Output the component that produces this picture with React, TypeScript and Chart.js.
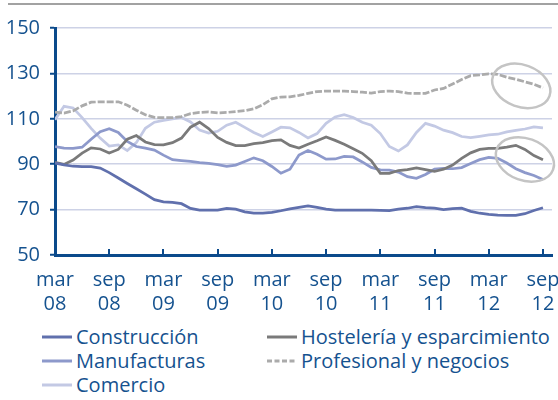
import React, { useEffect, useRef } from "react";
import { Chart, registerables } from "chart.js";

Chart.register(...registerables);

// ---- data (monthly, mar 08 .. sep 12) ----
const xTickMonths = [0, 6, 12, 18, 24, 30, 36, 42, 48, 54];
const xTickLabels = [
  ["mar", "08"], ["sep", "08"], ["mar", "09"], ["sep", "09"], ["mar", "10"],
  ["sep", "10"], ["mar", "11"], ["sep", "11"], ["mar", "12"], ["sep", "12"],
];
const yLabelledTicks = [50, 70, 90, 110, 130, 150];

const seriesNames = [
  "Construcción",
  "Hostelería y esparcimiento",
  "Manufacturas",
  "Profesional y negocios",
  "Comercio",
];

const construccion = [
  90.5, 89.7, 89.1, 88.9, 88.9, 88.3, 86.3, 83.9, 81.5, 79.2,
  76.8, 74.4, 73.4, 73.2, 72.6, 70.5, 69.8, 69.8, 69.8, 70.5,
  70.2, 69.0, 68.4, 68.4, 68.8, 69.5, 70.3, 71.0, 71.6, 71.0,
  70.2, 69.8, 69.8, 69.8, 69.8, 69.8, 69.7, 69.6, 70.2, 70.6,
  71.3, 70.9, 70.6, 70.0, 70.4, 70.6, 69.2, 68.4, 67.9, 67.6,
  67.5, 67.5, 68.2, 69.6, 70.8,
];
const hosteleria = [
  90.8, 89.9, 91.8, 94.9, 97.2, 96.7, 94.9, 96.5, 101.0, 102.6,
  99.8, 98.6, 98.5, 99.5, 101.5, 106.3, 108.5, 105.7, 101.8, 99.6,
  98.2, 98.2, 99.1, 99.5, 100.4, 100.7, 98.3, 97.1, 98.8, 100.3,
  102.0, 100.5, 98.8, 96.8, 94.8, 91.5, 86.0, 86.0, 87.2, 87.6,
  88.4, 87.6, 86.8, 87.8, 89.6, 92.6, 95.0, 96.5, 97.0, 97.0,
  97.5, 98.3, 96.5, 93.8, 92.0,
];
const manufacturas = [
  97.8, 97.1, 97.0, 97.5, 101.0, 104.3, 105.6, 104.0, 100.0, 97.8,
  97.1, 96.2, 94.0, 92.0, 91.6, 91.2, 90.7, 90.4, 89.8, 89.1,
  89.6, 91.2, 92.8, 91.5, 89.0, 86.0, 87.8, 94.0, 96.0, 94.4,
  92.2, 92.3, 93.4, 93.2, 91.0, 88.6, 87.5, 87.4, 86.5, 84.5,
  83.8, 85.5, 87.8, 88.2, 88.0, 88.5, 90.3, 92.0, 93.0, 92.6,
  90.5, 88.0, 86.3, 85.0, 83.3,
];
const profesional = [
  112.9, 112.5, 113.5, 115.7, 117.3, 117.5, 117.5, 117.5, 116.0, 113.8,
  111.8, 110.6, 110.5, 110.5, 111.0, 112.3, 112.8, 113.0, 112.6, 112.8,
  113.2, 113.6, 114.4, 116.2, 118.8, 119.6, 119.7, 120.3, 121.2, 122.0,
  122.2, 122.2, 122.2, 122.0, 121.7, 121.3, 122.0, 122.2, 122.0, 121.3,
  121.2, 121.2, 122.7, 123.4, 125.3, 127.3, 129.0, 129.3, 129.8, 129.6,
  128.3, 127.4, 126.3, 125.2, 123.6,
];
const comercio = [
  109.6, 115.5, 114.8, 110.5, 105.8, 101.5, 98.0, 98.5, 96.0, 99.5,
  105.8, 108.5, 109.3, 110.0, 110.6, 108.6, 105.0, 103.7, 104.5, 107.2,
  108.5, 106.2, 104.0, 102.2, 104.2, 106.3, 106.0, 104.0, 101.6, 103.5,
  108.0, 110.8, 111.8, 110.6, 108.5, 107.2, 103.5, 97.8, 95.8, 98.5,
  104.0, 108.0, 106.8, 105.0, 103.9, 102.2, 101.7, 102.3, 102.9, 103.2,
  104.2, 104.9, 105.5, 106.4, 106.0,
];
const seriesValues = [construccion, hosteleria, manufacturas, profesional, comercio];

// highlighted regions (month, value)
const ellipseMonths = [51.6, 52.0];
const ellipseValues = [124.5, 92.1];

// ---- styles ----
const FONT = "'Open Sans', sans-serif";
const TEXT = "#15528f";
const AXIS = "#0b4a8b";
const GRID = "#cdd2e6";
const ELLIPSE = "#c4c4c4";
const seriesColors = ["#6070ad", "#7a7a7a", "#8d99cb", "#ababab", "#c3c9e4"];
const seriesDash: number[][] = [[], [], [], [7, 2], []];

const decorPlugin = {
  id: "decor",
  afterDraw(chart: any) {
    const { ctx, chartArea, scales } = chart;
    const xs = scales.x;
    const ys = scales.y;
    ctx.save();
    ctx.strokeStyle = AXIS;
    ctx.lineWidth = 2;
    xTickMonths.forEach((m) => {
      const px = Math.round(xs.getPixelForValue(m));
      ctx.beginPath();
      ctx.moveTo(px, chartArea.bottom - 6);
      ctx.lineTo(px, chartArea.bottom);
      ctx.stroke();
    });
    ctx.strokeStyle = ELLIPSE;
    ctx.lineWidth = 2.5;
    ellipseMonths.forEach((m, i) => {
      ctx.beginPath();
      ctx.ellipse(
        xs.getPixelForValue(m),
        ys.getPixelForValue(ellipseValues[i]),
        30,
        21,
        (20 * Math.PI) / 180,
        0,
        Math.PI * 2
      );
      ctx.stroke();
    });
    ctx.restore();
  },
};

function Swatch({ color, dash }: { color: string; dash: number[] }) {
  return (
    <svg width={30} height={6} style={{ display: "block", marginRight: 4 }}>
      <line
        x1={0}
        y1={3}
        x2={30}
        y2={3}
        stroke={color}
        strokeWidth={3}
        strokeDasharray={dash.length ? "5 2.5" : undefined}
      />
    </svg>
  );
}

export default function App() {
  const canvasRef = useRef<HTMLCanvasElement | null>(null);

  useEffect(() => {
    const canvas = canvasRef.current;
    if (!canvas) return;
    const chart = new Chart(canvas, {
      type: "line",
      data: {
        datasets: seriesNames.map((name, i) => ({
          label: name,
          data: seriesValues[i].map((v, m) => ({ x: m, y: v })),
          borderColor: seriesColors[i],
          backgroundColor: seriesColors[i],
          borderWidth: 2.75,
          borderDash: seriesDash[i],
          pointRadius: 0,
          tension: 0,
          fill: false,
        })),
      },
      options: {
        animation: false,
        responsive: false,
        maintainAspectRatio: false,
        layout: { padding: { top: 28, right: 6, left: 0, bottom: 0 } },
        plugins: {
          legend: { display: false },
          tooltip: { enabled: false },
        },
        scales: {
          x: {
            type: "linear",
            min: 0,
            max: 55,
            afterBuildTicks: (scale: any) => {
              scale.ticks = xTickMonths.map((v) => ({ value: v }));
            },
            afterFit: (scale: any) => {
              scale.height = 65;
              scale.paddingLeft = 0;
              scale.paddingRight = 0;
            },
            grid: { display: true, drawOnChartArea: false, drawTicks: false, color: "rgba(0,0,0,0)" },
            border: { display: true, color: AXIS, width: 3 },
            ticks: {
              autoSkip: false,
              maxRotation: 0,
              minRotation: 0,
              padding: 13,
              color: TEXT,
              font: { family: FONT, size: 20, lineHeight: 1.2 },
              callback: (value: any) => {
                const idx = xTickMonths.indexOf(Number(value));
                return idx >= 0 ? xTickLabels[idx] : "";
              },
            },
          },
          y: {
            type: "linear",
            min: 50,
            max: 150,
            afterFit: (scale: any) => {
              scale.width = 55;
              scale.paddingTop = 0;
              scale.paddingBottom = 0;
            },
            grid: {
              color: GRID,
              lineWidth: 1.5,
              tickColor: AXIS,
              tickLength: 5,
              tickWidth: 2,
            },
            border: { display: true, color: AXIS, width: 3 },
            ticks: {
              stepSize: 10,
              padding: 10,
              color: TEXT,
              font: { family: FONT, size: 20 },
              callback: (value: any) =>
                yLabelledTicks.includes(Number(value)) ? String(value) : "",
            },
          },
        },
      },
      plugins: [decorPlugin],
    } as any);
    return () => chart.destroy();
  }, []);

  const legendOrder = [0, 1, 2, 3, 4];

  return (
    <div
      style={{
        position: "fixed",
        left: 0,
        top: 0,
        width: 558,
        height: 400,
        background: "#ffffff",
        overflow: "hidden",
        fontFamily: FONT,
      }}
    >
      <div
        style={{
          position: "absolute",
          left: 8,
          top: 3,
          width: 550,
          height: 2,
          background: "#a2a2a2",
        }}
      />
      <canvas
        ref={canvasRef}
        width={558}
        height={320}
        style={{ position: "absolute", left: 0, top: 0, width: 558, height: 320 }}
      />
      <div
        style={{
          position: "absolute",
          left: 42,
          top: 325,
          display: "grid",
          gridTemplateColumns: "225px auto",
          rowGap: 0,
        }}
      >
        {legendOrder.map((i) => (
          <div
            key={seriesNames[i]}
            style={{
              display: "flex",
              alignItems: "center",
              height: 24,
              lineHeight: "24px",
              fontSize: 20,
              color: TEXT,
              whiteSpace: "nowrap",
            }}
          >
            <Swatch color={seriesColors[i]} dash={seriesDash[i]} />
            <span>{seriesNames[i]}</span>
          </div>
        ))}
      </div>
    </div>
  );
}
